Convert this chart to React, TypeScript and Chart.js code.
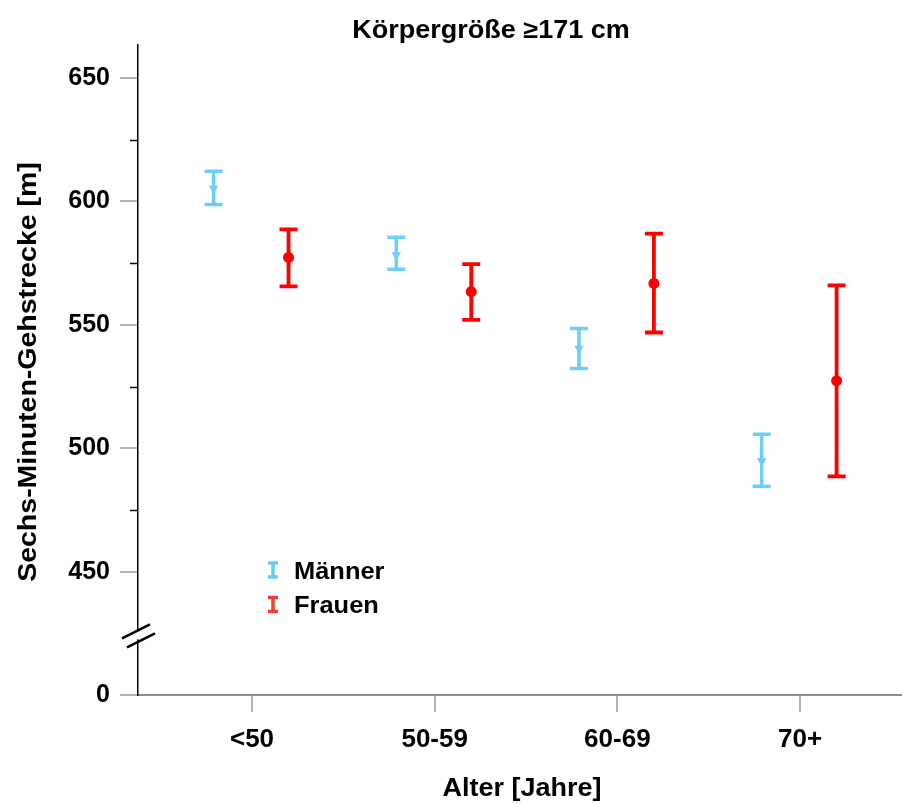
import React, { useEffect, useRef } from "react";
import { Chart, registerables } from "chart.js";
Chart.register(...registerables);

const chartTitle = "Körpergröße ≥171 cm";
const xTitle = "Alter [Jahre]";
const yTitle = "Sechs-Minuten-Gehstrecke [m]";
const categories = ["<50", "50-59", "60-69", "70+"];
const seriesNames = ["Männer", "Frauen"];
const menMean = [605.3, 578.3, 540.4, 494.8];
const menLow = [598.8, 572.5, 532.3, 484.6];
const menHigh = [612.2, 585.5, 548.5, 505.7];
const womenMean = [577.3, 563.5, 566.8, 527.3];
const womenLow = [565.6, 552.0, 546.9, 488.6];
const womenHigh = [588.7, 574.6, 587.0, 566.0];
const yMajorTicks = [400, 450, 500, 550, 600, 650];
const yTickLabels = ["0", "450", "500", "550", "600", "650"];
const yMinorTicks = [475, 525, 575, 625];
const yBreakValue = 425;

const MEN_COLOR = "#6dcff6";
const WOMEN_COLOR = "#ff0000";
const MEN_LEGEND = "#66ccf2";
const WOMEN_LEGEND = "#ec4034";
const FONT = "'Liberation Sans', Arial, sans-serif";
const menOffset = -0.21;
const womenOffset = 0.2;

function stretchedText(ctx: any, text: string, x: number, y: number, size: number, sx: number, align: string, rot = 0) {
  ctx.save();
  ctx.translate(x, y);
  if (rot) ctx.rotate(rot);
  ctx.scale(sx, 1);
  ctx.font = `bold ${size}px ${FONT}`;
  ctx.fillStyle = "#000";
  ctx.textAlign = align;
  ctx.textBaseline = "alphabetic";
  ctx.fillText(text, 0, 0);
  ctx.restore();
}

const errorBarPlugin = {
  id: "errorBars",
  afterLayout(chart: any) {
    const xs = chart.scales.x;
    const w = chart.width;
    if (xs && xs.right !== w) {
      xs.right = w;
      xs.width = w - xs.left;
      xs.configure();
      chart.chartArea.right = w;
      chart.chartArea.width = w - chart.chartArea.left;
    }
  },
  beforeDatasetsDraw(chart: any) {
    const { ctx } = chart;
    const xs = chart.scales.x;
    const ys = chart.scales.y;
    const draw = (off: number, lo: number[], hi: number[], color: string, lw: number) => {
      ctx.save();
      ctx.strokeStyle = color;
      ctx.lineWidth = lw;
      for (let i = 0; i < lo.length; i++) {
        const x = xs.getPixelForValue(i + off);
        const y1 = ys.getPixelForValue(lo[i]);
        const y2 = ys.getPixelForValue(hi[i]);
        ctx.beginPath();
        ctx.moveTo(x, y1);
        ctx.lineTo(x, y2);
        ctx.moveTo(x - 9, y1);
        ctx.lineTo(x + 9, y1);
        ctx.moveTo(x - 9, y2);
        ctx.lineTo(x + 9, y2);
        ctx.stroke();
      }
      ctx.restore();
    };
    draw(menOffset, menLow, menHigh, MEN_COLOR, 3.5);
    draw(womenOffset, womenLow, womenHigh, WOMEN_COLOR, 3.8);
  },
  afterDraw(chart: any) {
    const { ctx, chartArea } = chart;
    const ys = chart.scales.y;
    const left = chartArea.left;
    ctx.save();
    // minor ticks
    ctx.strokeStyle = "#000";
    ctx.lineWidth = 1.5;
    for (const v of yMinorTicks) {
      const y = Math.round(ys.getPixelForValue(v)) + 0.5;
      ctx.beginPath();
      ctx.moveTo(left - 8, y);
      ctx.lineTo(left, y);
      ctx.stroke();
    }
    // axis break
    const yb = ys.getPixelForValue(yBreakValue) + 2;
    ctx.fillStyle = "#fff";
    ctx.beginPath();
    ctx.moveTo(left - 14, yb + 3);
    ctx.lineTo(left + 14, yb - 11);
    ctx.lineTo(left + 14, yb - 3);
    ctx.lineTo(left - 14, yb + 11);
    ctx.closePath();
    ctx.fill();
    ctx.strokeStyle = "#000";
    ctx.lineWidth = 2.5;
    ctx.beginPath();
    ctx.moveTo(left - 16, yb + 3);
    ctx.lineTo(left + 12, yb - 11);
    ctx.moveTo(left - 11, yb + 12);
    ctx.lineTo(left + 17, yb - 2);
    ctx.stroke();
    ctx.restore();

    // titles
    stretchedText(ctx, chartTitle, 491, 38, 25, 1.08, "center");
    stretchedText(ctx, xTitle, 522, 796, 25, 1.08, "center");
    stretchedText(ctx, yTitle, 36, (chartArea.top + chartArea.bottom) / 2 + 2, 25, 1.14, "center", -Math.PI / 2);

    // legend
    const lx = 273;
    const items = [
      { name: seriesNames[0], color: MEN_LEGEND, y: 570 },
      { name: seriesNames[1], color: WOMEN_LEGEND, y: 604.5 },
    ];
    for (const it of items) {
      ctx.save();
      ctx.strokeStyle = it.color;
      ctx.lineWidth = 3.5;
      ctx.beginPath();
      ctx.moveTo(lx, it.y - 7);
      ctx.lineTo(lx, it.y + 7);
      ctx.moveTo(lx - 5, it.y - 7);
      ctx.lineTo(lx + 5, it.y - 7);
      ctx.moveTo(lx - 5, it.y + 7);
      ctx.lineTo(lx + 5, it.y + 7);
      ctx.stroke();
      ctx.restore();
      stretchedText(ctx, it.name, 294, it.y + 8.5, 24, 1.06, "left");
    }
  },
};

export default function App() {
  const ref = useRef<HTMLCanvasElement | null>(null);
  useEffect(() => {
    if (!ref.current) return;
    const chart = new Chart(ref.current, {
      type: "scatter",
      data: {
        datasets: [
          {
            label: seriesNames[0],
            data: menMean.map((v, i) => ({ x: i + menOffset, y: v })),
            backgroundColor: MEN_COLOR,
            borderColor: MEN_COLOR,
            pointStyle: "triangle",
            rotation: 180,
            pointRadius: 5.5,
            borderWidth: 0,
          },
          {
            label: seriesNames[1],
            data: womenMean.map((v, i) => ({ x: i + womenOffset, y: v })),
            backgroundColor: WOMEN_COLOR,
            borderColor: WOMEN_COLOR,
            pointStyle: "circle",
            pointRadius: 5.5,
            borderWidth: 0,
          },
        ],
      },
      options: {
        animation: false,
        responsive: false,
        devicePixelRatio: 1,
        layout: { padding: { top: 45, right: 0, left: 0, bottom: 0 } },
        plugins: { legend: { display: false }, tooltip: { enabled: false }, title: { display: false } },
        scales: {
          x: {
            type: "linear",
            min: -0.624,
            max: 3.558,
            afterBuildTicks: (s: any) => {
              s.ticks = categories.map((_, i) => ({ value: i }));
            },
            afterFit: (s: any) => {
              s.height = 109;
              s.paddingLeft = 0;
              s.paddingRight = 0;
            },
            border: { display: true, color: "#8c8c8c", width: 2 },
            grid: { drawOnChartArea: false, drawTicks: true, tickLength: 17, color: "#b4b4b4", tickColor: "#b4b4b4", lineWidth: 2 },
            ticks: {
              autoSkip: false,
              maxRotation: 0,
              padding: 12,
              color: "#000",
              font: { family: FONT, size: 26, weight: "bold" },
              callback: (v: any) => categories[Math.round(Number(v))] ?? "",
            },
            title: { display: false },
          },
          y: {
            type: "linear",
            min: 400,
            max: 663.4,
            afterBuildTicks: (s: any) => {
              s.ticks = yMajorTicks.map((v) => ({ value: v }));
            },
            afterFit: (s: any) => {
              s.width = 138;
            },
            border: { display: true, color: "#000", width: 1.5 },
            grid: { drawOnChartArea: false, drawTicks: true, tickLength: 18, tickColor: "#b4b4b4", color: "#b4b4b4", lineWidth: 2 },
            ticks: {
              padding: 10,
              color: "#000",
              font: { family: FONT, size: 25, weight: "bold" },
              callback: (v: any) => {
                const i = yMajorTicks.indexOf(Number(v));
                return i >= 0 ? yTickLabels[i] : "";
              },
            },
            title: { display: false },
          },
        },
      },
      plugins: [errorBarPlugin],
    } as any);
    return () => chart.destroy();
  }, []);
  return (
    <div style={{ position: "absolute", left: 0, top: 0, width: 902, height: 804, background: "#fff" }}>
      <canvas ref={ref} width={902} height={804} style={{ display: "block", width: 902, height: 804 }} />
    </div>
  );
}
